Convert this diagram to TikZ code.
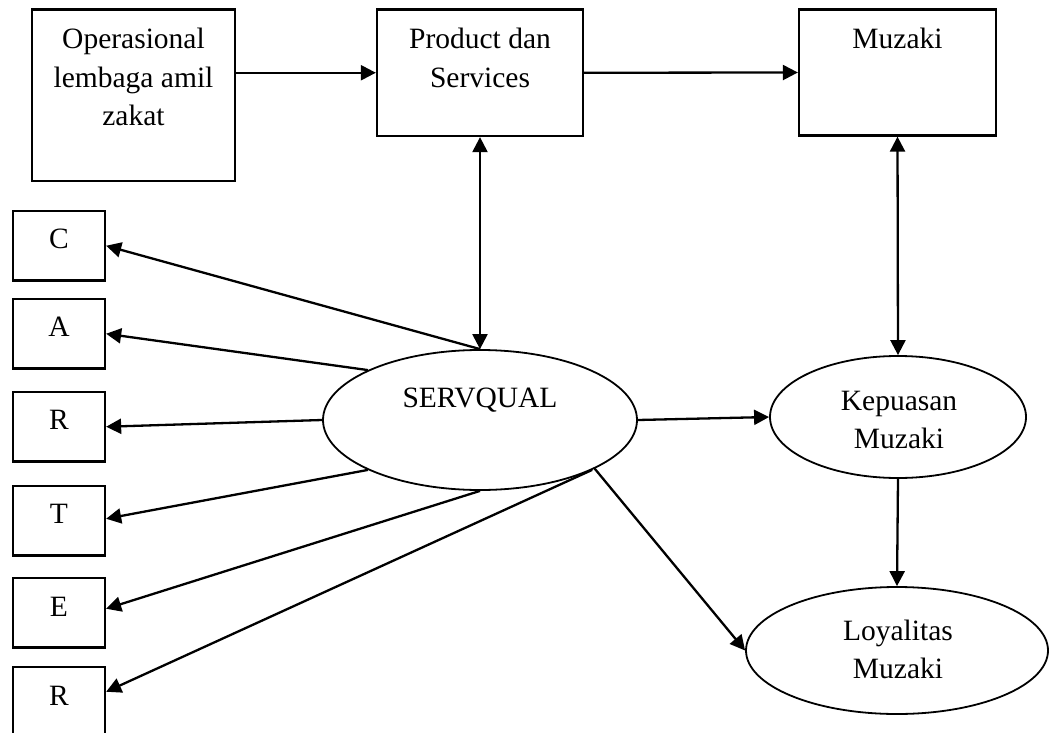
\documentclass[tikz,border=0pt]{standalone}
\usepackage{fontspec}
\setmainfont{Liberation Serif}
\usetikzlibrary{shapes.geometric,arrows.meta}
\begin{document}
\begin{tikzpicture}[x=1pt,y=-1pt,
  box/.style={draw,line width=2.3pt,rectangle,inner sep=0pt},
  smallbox/.style={box,minimum width=92pt,minimum height=69.5pt},
  oval/.style={draw,line width=1.8pt,ellipse,inner sep=0pt},
  lbl/.style={anchor=base,inner sep=0pt,font=\fontsize{29.5}{38.5}\selectfont},
  arr/.style={line width=2.3pt,-{Triangle[length=15pt,width=15pt]}},
  darr/.style={line width=2.3pt,{Triangle[length=15pt,width=15pt]}-{Triangle[length=15pt,width=15pt]}}]
\useasboundingbox (0,0) rectangle (1049,733);

% top boxes
\node[box,minimum width=203pt,minimum height=171.5pt] (op) at (133.5,95.25) {};
\node[box,minimum width=206pt,minimum height=126.5pt] (prod) at (480,72.75) {};
\node[box,minimum width=197pt,minimum height=126pt] (muz) at (897.5,72.5) {};

% ellipses
\node[oval,minimum width=314pt,minimum height=140pt] (serv) at (480,420) {};
\node[oval,minimum width=256pt,minimum height=122pt] (kep) at (898,417) {};
\node[oval,minimum width=302pt,minimum height=127pt] (loy) at (897,650.5) {};

% small boxes
\node[smallbox] (c) at (59,245.75) {};
\node[smallbox] (a) at (59,333.75) {};
\node[smallbox] (r1) at (59,426.75) {};
\node[smallbox] (t) at (59,520.75) {};
\node[smallbox] (e) at (59,612.75) {};
\node[smallbox] (r2) at (59,701.75) {};

% texts
\node[lbl] (top) at (133.5,49) {\begin{tabular}[t]{@{}c@{}}Operasional\\lembaga amil\\zakat\end{tabular}};
\node[lbl] (tprod) at (480,49) {\begin{tabular}[t]{@{}c@{}}Product dan\\Services\end{tabular}};
\node[lbl] (tmuz) at (897.5,48.5) {Muzaki};
\node[lbl] (tserv) at (480,407) {SERVQUAL};
\node[lbl] (tkep) at (899,410) {\begin{tabular}[t]{@{}c@{}}Kepuasan\\Muzaki\end{tabular}};
\node[lbl] (tloy) at (898,640) {\begin{tabular}[t]{@{}c@{}}Loyalitas\\Muzaki\end{tabular}};
\node[lbl] (tc) at (59,248.5) {C};
\node[lbl] (ta) at (59,336.5) {A};
\node[lbl] (tr1) at (59,429.5) {R};
\node[lbl] (tt) at (59,523.5) {T};
\node[lbl] (te) at (59,616) {E};
\node[lbl] (tr2) at (59,705) {R};

% connectors
\draw[arr] (op.east |- prod.west) -- (prod.west);
\draw[arr] (prod.east) -- (muz.west);
\draw[darr] (prod.south) -- (serv.north);
\draw[darr] (muz.south) -- (kep.north);
\draw[arr] (serv.east) -- (kep.west);
\draw[arr] (kep.south) -- (loy.north);
\draw[arr] (serv.-23.6) -- (loy.west);

\draw[arr] (serv.north) -- (c.east);
\draw[arr] (serv.156.4) -- (a.east);
\draw[arr] (serv.west) -- (r1.east);
\draw[arr] (serv.204) -- ([yshift=2pt]t.east);
\draw[arr] (serv.south) -- ([yshift=4pt]e.east);
\draw[arr] (serv.-24) -- ([yshift=10pt]r2.east);
\end{tikzpicture}
\end{document}
